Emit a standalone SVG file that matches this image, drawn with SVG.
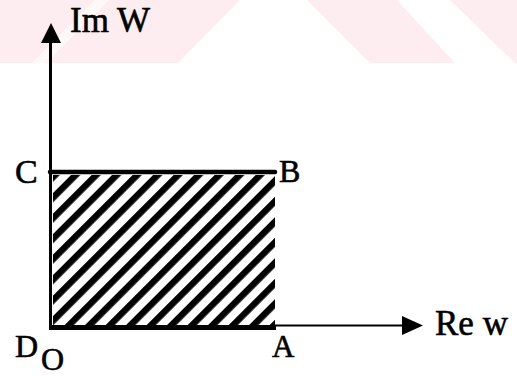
<svg xmlns="http://www.w3.org/2000/svg" width="517" height="376" viewBox="0 0 517 376">
<style>
.lbl{font-family:"Liberation Serif","Times New Roman",serif;fill:#000;stroke:#000;stroke-width:0.6;}
.ax{stroke:#000;fill:none;}
</style>
<defs>
<pattern id="hatch" width="14.5" height="14.5" patternUnits="userSpaceOnUse" patternTransform="rotate(45)">
<rect x="0" y="0" width="6.5" height="14.5" fill="#000"/>
</pattern>
</defs>
<rect width="517" height="376" fill="#fff"/>
<g id="watermark">
<rect x="0" y="0" width="517" height="63" fill="#fdedf0"/>
<polygon points="32,63 46,63 109,0 95,0" fill="#fff" opacity="0.6"/>
<polygon points="178,63 370,63 307,0 240,0" fill="#fff"/>
<polygon points="455,63 515,63 450,0 397,0" fill="#fff"/>
</g>
<g id="region">
<rect x="53" y="175" width="222" height="150" fill="url(#hatch)"/>
<line class="ax" x1="50" y1="172" x2="275" y2="172" stroke-width="4.5" stroke-linecap="round"/>
<line class="ax" x1="49" y1="327.5" x2="276" y2="327.5" stroke-width="5"/>
</g>
<g id="connectors">
<line class="ax" x1="50.5" y1="40" x2="50.5" y2="330" stroke-width="3"/>
<polygon points="51,23 41,43 61,43" fill="#000"/>
<line class="ax" x1="270" y1="325.5" x2="405" y2="325.5" stroke-width="2"/>
<polygon points="423,325.5 402,316 402,335" fill="#000"/>
</g>
<g id="labels">
<text class="lbl" x="70" y="32" font-size="35">Im W</text>
<text class="lbl" x="435" y="335" font-size="35">Re w</text>
<text class="lbl" x="15" y="183" font-size="34">C</text>
<text class="lbl" x="279" y="182" font-size="32">B</text>
<text class="lbl" x="15" y="357" font-size="32">D</text>
<text class="lbl" x="41" y="370" font-size="32">O</text>
<text class="lbl" x="272" y="357" font-size="31">A</text>
</g>
</svg>
